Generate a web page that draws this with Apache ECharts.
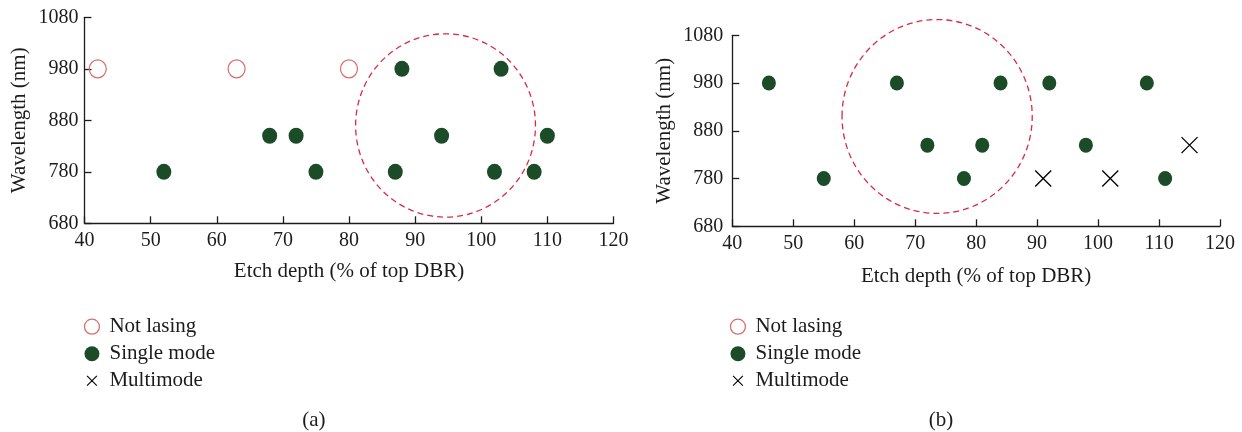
<!DOCTYPE html>
<html>
<head>
<meta charset="utf-8">
<title>Etch depth vs wavelength</title>
<script src="https://cdn.jsdelivr.net/npm/echarts@6/dist/echarts.min.js"></script>
<style>
  html, body { margin: 0; padding: 0; background: #fff; }
  #chart { width: 1242px; height: 432px; }
</style>
</head>
<body>
<div id="chart"></div>
<script>
// Panel (a): [etch depth %, wavelength nm]
const notLasingA = [[42, 980], [63, 980], [80, 980]];
const singleModeA = [
  [52, 780], [68, 850], [72, 850], [75, 780], [87, 780], [88, 980],
  [94, 850], [102, 780], [103, 980], [108, 780], [110, 850]
];
// Panel (b)
const singleModeB = [
  [46, 980], [55, 780], [67, 980], [72, 850], [78, 780], [81, 850],
  [84, 980], [92, 980], [98, 850], [108, 980], [111, 780]
];
const multiModeB = [[91, 780], [102, 780], [115, 850]];

// Highlighted regions: [centre x, centre y, half-width, half-height] in data units
const regionA = [[94.6, 870, 13.6, 178]];
const regionB = [[73.6, 910, 15.6, 203]];

const seriesNames = ['Not lasing', 'Single mode', 'Multimode'];
const xTicks = { min: 40, max: 120, interval: 10 };
const yTicks = { min: 680, max: 1080, interval: 100 };
const panelLabels = ['(a)', '(b)'];

const FONT = 'Liberation Serif, Times New Roman, serif';
const INK = '#1c1c1c';
const GREEN = '#1b4b27';
const SALMON = '#d8716c';
const CRIMSON = '#dc2a45';
const CROSS = 'path://M0,0L10,10M10,0L0,10';
const CROSS_ICON = 'path://M0,0M15,15M2.6,2.6L12.4,12.4M12.4,2.6L2.6,12.4';

function xAxisFor(gridIndex, gap) {
  return {
    type: 'value', gridIndex,
    min: xTicks.min, max: xTicks.max, interval: xTicks.interval,
    name: 'Etch depth (% of top DBR)', nameLocation: 'middle', nameGap: gap,
    nameTextStyle: { fontFamily: FONT, fontSize: 21, color: INK },
    axisLine: { show: true, onZero: false, lineStyle: { color: INK, width: 1.3 } },
    axisTick: { show: true, inside: true, length: 7, lineStyle: { color: INK, width: 1.3 } },
    axisLabel: { fontFamily: FONT, fontSize: 20, color: INK, margin: 7,
      formatter: function (v) { return String(v); } },
    splitLine: { show: false }
  };
}
function yAxisFor(gridIndex, gap, margin) {
  return {
    type: 'value', gridIndex,
    min: yTicks.min, max: yTicks.max, interval: yTicks.interval,
    name: 'Wavelength (nm)', nameLocation: 'middle', nameGap: gap,
    nameTextStyle: { fontFamily: FONT, fontSize: 21, color: INK },
    axisLine: { show: true, onZero: false, lineStyle: { color: INK, width: 1.3 } },
    axisTick: { show: true, inside: true, length: 7, lineStyle: { color: INK, width: 1.3 } },
    axisLabel: { fontFamily: FONT, fontSize: 20, color: INK, margin: margin,
      formatter: function (v) { return String(v); } },
    splitLine: { show: false }
  };
}
function legendFor(left) {
  return {
    orient: 'vertical', left: left, top: 316.2, padding: 0,
    itemWidth: 25, itemHeight: 15, itemGap: 6,
    selectedMode: false,
    textStyle: { fontFamily: FONT, fontSize: 21, color: INK },
    data: [
      { name: seriesNames[0], icon: 'circle',
        itemStyle: { color: '#fff', borderColor: SALMON, borderWidth: 1.3 } },
      { name: seriesNames[1], icon: 'circle',
        itemStyle: { color: GREEN, borderWidth: 0 } },
      { name: seriesNames[2], icon: CROSS_ICON,
        itemStyle: { color: '#000', borderColor: '#000', borderWidth: 1.1 } }
    ]
  };
}
function regionSeries(data, axisIndex) {
  return {
    type: 'custom', name: 'region', xAxisIndex: axisIndex, yAxisIndex: axisIndex,
    clip: false, silent: true, z: 1,
    data: data,
    encode: { x: 0, y: 1 },
    renderItem: function (params, api) {
      const c = api.coord([api.value(0), api.value(1)]);
      const s = api.size([api.value(2), api.value(3)], [api.value(0), api.value(1)]);
      return {
        type: 'ellipse',
        shape: { cx: c[0], cy: c[1], rx: s[0], ry: s[1] },
        style: { fill: 'none', stroke: CRIMSON, lineWidth: 1.3, lineDash: [6, 4] }
      };
    }
  };
}

const chart = echarts.init(document.getElementById('chart'), null, { renderer: 'canvas' });
chart.setOption({
  animation: false,
  backgroundColor: '#fff',
  textStyle: { fontFamily: FONT },
  grid: [
    { left: 84.5, top: 17.3, width: 529, height: 206 },
    { left: 732.3, top: 35.3, width: 487.7, height: 191 }
  ],
  xAxis: [xAxisFor(0, 38), xAxisFor(1, 40)],
  yAxis: [yAxisFor(0, 54.5, 6), yAxisFor(1, 57, 9)],
  legend: [legendFor(83.8), legendFor(729.8)],
  title: [
    { text: panelLabels[0], left: 302.3, top: 409.5, padding: 0,
      textStyle: { fontFamily: FONT, fontSize: 21, fontWeight: 'normal', color: INK } },
    { text: panelLabels[1], left: 928.8, top: 409.5, padding: 0,
      textStyle: { fontFamily: FONT, fontSize: 21, fontWeight: 'normal', color: INK } }
  ],
  series: [
    regionSeries(regionA, 0),
    regionSeries(regionB, 1),
    {
      type: 'scatter', name: seriesNames[0], xAxisIndex: 0, yAxisIndex: 0,
      data: notLasingA, symbol: 'circle', symbolSize: [17, 18], z: 3,
      itemStyle: { color: 'rgba(255,255,255,0)', borderColor: SALMON, borderWidth: 1.3, opacity: 1 }
    },
    {
      type: 'scatter', name: seriesNames[1], xAxisIndex: 0, yAxisIndex: 0,
      data: singleModeA, symbol: 'circle', symbolSize: [15, 16], z: 3,
      itemStyle: { color: GREEN, opacity: 1 }
    },
    {
      type: 'scatter', name: seriesNames[1], xAxisIndex: 1, yAxisIndex: 1,
      data: singleModeB, symbol: 'circle', symbolSize: [14, 15], z: 3,
      itemStyle: { color: GREEN, opacity: 1 }
    },
    {
      type: 'scatter', name: seriesNames[2], xAxisIndex: 1, yAxisIndex: 1,
      data: multiModeB, symbol: CROSS, symbolSize: 16, z: 3,
      itemStyle: { color: '#000', borderColor: '#000', borderWidth: 1.3, opacity: 1 }
    }
  ]
});
</script>
</body>
</html>
